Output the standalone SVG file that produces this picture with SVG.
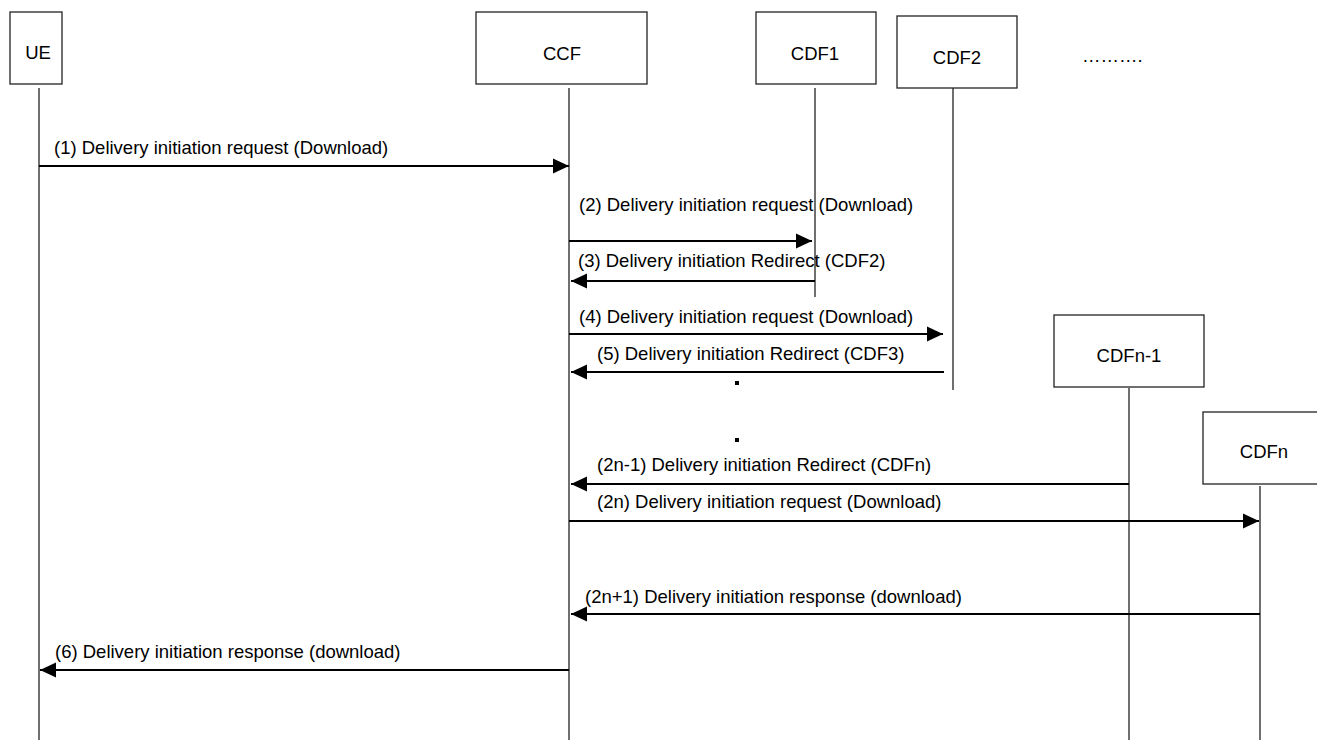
<svg xmlns="http://www.w3.org/2000/svg" width="1317" height="740" viewBox="0 0 1317 740">
<style>
.box{fill:#fff;stroke:#222;stroke-width:1.3}
.life{stroke:#222;stroke-width:1.3;fill:none}
.msg{stroke:#000;stroke-width:2.2;fill:none}
.t{font-family:"Liberation Sans",Arial,sans-serif;font-size:18.5px;fill:#000}
.c{text-anchor:middle}
</style>
<defs>
<marker id="ah" markerUnits="userSpaceOnUse" markerWidth="16" markerHeight="16" viewBox="0 0 16 16" refX="16" refY="8" orient="auto">
<path d="M0,0.5 L16,8 L0,15.5 Z" fill="#000"/>
</marker>
</defs>
<rect width="1317" height="740" fill="#fff"/>
<g id="UE"><rect class="box" x="10" y="12" width="52" height="72"/><text class="t c" x="38" y="59">UE</text><line class="life" x1="39" y1="88" x2="39" y2="740"/></g>
<g id="CCF"><rect class="box" x="476" y="12" width="171" height="72"/><text class="t c" x="562" y="60">CCF</text><line class="life" x1="569" y1="88" x2="569" y2="740"/></g>
<g id="CDF1"><rect class="box" x="756" y="12" width="120" height="72"/><text class="t c" x="815" y="60">CDF1</text><line class="life" x1="815" y1="88" x2="815" y2="297"/></g>
<g id="CDF2"><rect class="box" x="897" y="16" width="120" height="72"/><text class="t c" x="957" y="64">CDF2</text><line class="life" x1="953" y1="88" x2="953" y2="390"/></g>
<g id="dots"><text class="t" x="1082" y="62">……….</text></g>
<g id="CDFn-1"><rect class="box" x="1054" y="315" width="150" height="72"/><text class="t c" x="1129" y="362">CDFn-1</text><line class="life" x1="1129" y1="388" x2="1129" y2="740"/></g>
<g id="CDFn"><rect class="box" x="1203" y="412" width="120" height="72"/><text class="t c" x="1264" y="458">CDFn</text><line class="life" x1="1260" y1="486" x2="1260" y2="740"/></g>
<g id="connectors">
<line class="msg" x1="39" y1="166" x2="569" y2="166" marker-end="url(#ah)"/>
<line class="msg" x1="569" y1="241" x2="812" y2="241" marker-end="url(#ah)"/>
<line class="msg" x1="815" y1="281" x2="571" y2="281" marker-end="url(#ah)"/>
<line class="msg" x1="569" y1="334" x2="943" y2="334" marker-end="url(#ah)"/>
<line class="msg" x1="944" y1="372" x2="571" y2="372" marker-end="url(#ah)"/>
<line class="msg" x1="1129" y1="484" x2="571" y2="484" marker-end="url(#ah)"/>
<line class="msg" x1="569" y1="521" x2="1259" y2="521" marker-end="url(#ah)"/>
<line class="msg" x1="1260" y1="614" x2="571" y2="614" marker-end="url(#ah)"/>
<line class="msg" x1="569" y1="670" x2="40" y2="670" marker-end="url(#ah)"/>
<rect x="735" y="381" width="4" height="4" fill="#000"/>
<rect x="735" y="438" width="4" height="4" fill="#000"/>
</g>
<g id="labels">
<text class="t" x="54" y="154">(1) Delivery initiation request (Download)</text>
<text class="t" x="579" y="211">(2) Delivery initiation request (Download)</text>
<text class="t" x="578" y="267">(3) Delivery initiation Redirect (CDF2)</text>
<text class="t" x="579" y="323">(4) Delivery initiation request (Download)</text>
<text class="t" x="597" y="360">(5) Delivery initiation Redirect (CDF3)</text>
<text class="t" x="597" y="471">(2n-1) Delivery initiation Redirect (CDFn)</text>
<text class="t" x="597" y="508">(2n) Delivery initiation request (Download)</text>
<text class="t" x="585" y="603">(2n+1) Delivery initiation response (download)</text>
<text class="t" x="55" y="658">(6) Delivery initiation response (download)</text>
</g>
</svg>
